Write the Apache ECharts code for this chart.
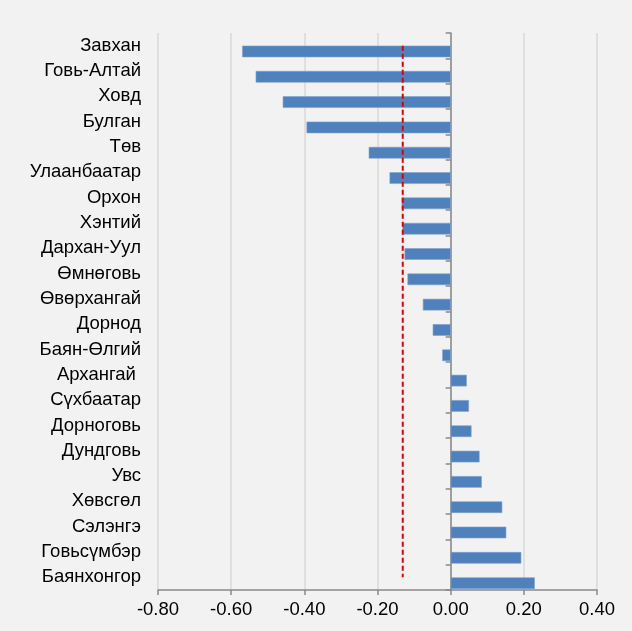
<!DOCTYPE html>
<html><head><meta charset="utf-8">
<script src="https://cdn.jsdelivr.net/npm/echarts@6/dist/echarts.min.js"></script>
<style>html,body{margin:0;padding:0;background:#f2f2f2}#c{width:632px;height:631px}</style>
</head><body><div id="c"></div>
<script>
const categories = ['Завхан','Говь-Алтай','Ховд','Булган','Төв','Улаанбаатар','Орхон','Хэнтий','Дархан-Уул','Өмнөговь','Өвөрхангай','Дорнод','Баян-Өлгий','Архангай ','Сүхбаатар','Дорноговь','Дундговь','Увс','Хөвсгөл','Сэлэнгэ','Говьсүмбэр','Баянхонгор'];
const values = [-0.570,-0.533,-0.459,-0.394,-0.224,-0.167,-0.134,-0.132,-0.126,-0.118,-0.076,-0.049,-0.023,0.044,0.050,0.057,0.079,0.085,0.141,0.152,0.193,0.230];
const averageValue = -0.131;
const xTicks = {min: -0.8, max: 0.4, interval: 0.2};

const chart = echarts.init(document.getElementById('c'), null, {renderer: 'canvas'});
const font = 'Liberation Sans, Arial, sans-serif';
chart.setOption({
  backgroundColor: '#f2f2f2',
  animation: false,
  grid: {left: 158, right: 35, top: 33, bottom: 41, containLabel: false},
  xAxis: {
    type: 'value', min: xTicks.min, max: xTicks.max, interval: xTicks.interval,
    axisLine: {show: true, onZero: false, lineStyle: {color: '#898989', width: 1.5}},
    axisTick: {show: true, length: 5, lineStyle: {color: '#898989', width: 1.5}},
    axisLabel: {formatter: v => v.toFixed(2), color: '#000', fontSize: 18.5, fontFamily: font, margin: 10},
    splitLine: {show: true, lineStyle: {color: '#d9d9d9', width: 1.5}}
  },
  yAxis: [{
    type: 'category', data: categories, inverse: true, position: 'left',
    axisLine: {show: false, onZero: false}, axisTick: {show: false},
    axisLabel: {color: '#000', fontSize: 18.5, fontFamily: font, margin: 17, interval: 0}
  }, {
    type: 'category', data: categories, inverse: true, position: 'left',
    axisLine: {show: true, onZero: true, lineStyle: {color: '#898989', width: 1.5}},
    axisTick: {show: true, inside: false, length: 5, interval: 0, lineStyle: {color: '#898989', width: 1.5}},
    axisLabel: {show: false}
  }],
  series: [{
    type: 'bar', yAxisIndex: 0, data: categories.map(() => null),
    barWidth: 11.6, barGap: '0%'
  }, {
    type: 'bar', yAxisIndex: 0, data: values,
    barWidth: 11.6, barGap: '0%',
    itemStyle: {color: '#4f81bd', borderColor: '#7da0cf', borderWidth: 0.6}
  }, {
    type: 'line', yAxisIndex: 0, symbol: 'none', z: 5,
    data: [[averageValue, categories[0]], [averageValue, categories[categories.length - 1]]],
    lineStyle: {color: '#e00000', width: 2, type: [5, 3]}
  }]
});
</script></body></html>
